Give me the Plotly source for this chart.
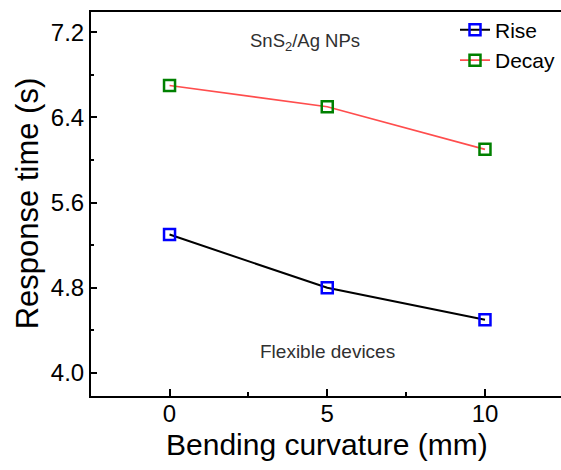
import plotly.graph_objects as go

curvature = [0, 5, 10]
rise = [5.30, 4.80, 4.50]
decay = [6.70, 6.50, 6.10]

FONT = "Liberation Sans, Arial, sans-serif"

fig = go.Figure()
fig.add_trace(go.Scatter(
    x=curvature, y=rise, name="Rise", mode="lines+markers",
    line=dict(color="black", width=2),
    marker=dict(symbol="square-open", size=11, color="#0000ff", line=dict(width=2.5, color="#0000ff")),
))
fig.add_trace(go.Scatter(
    x=curvature, y=decay, name="Decay", mode="lines+markers",
    line=dict(color="#ff4d4d", width=1.6),
    marker=dict(symbol="square-open", size=11, color="#008000", line=dict(width=2.5, color="#008000")),
))

fig.add_annotation(x=4.28, y=7.11, text="SnS<sub>2</sub>/Ag NPs", showarrow=False,
                   font=dict(family=FONT, size=18.5, color="#303030"), xref="x", yref="y")
fig.add_annotation(x=5.02, y=4.2, text="Flexible devices", showarrow=False,
                   font=dict(family=FONT, size=19, color="#303030"), xref="x", yref="y")

# axis titles
fig.add_annotation(x=5, xref="x", y=-0.1276, yref="paper", yanchor="middle",
                   text="Bending curvature (mm)", showarrow=False,
                   font=dict(family=FONT, size=30, color="black"))
fig.add_annotation(x=-0.136, xref="paper", xanchor="center", y=0.502, yref="paper", yanchor="middle",
                   text="Response time (s)", textangle=-90, showarrow=False,
                   font=dict(family=FONT, size=31, color="black"))

fig.update_layout(
    width=561, height=470,
    margin=dict(l=91, r=0, t=12, b=74, autoexpand=False),
    paper_bgcolor="white", plot_bgcolor="white",
    font=dict(family=FONT, color="black"),
    showlegend=True,
    legend=dict(x=1.0, y=1.006, xanchor="right", yanchor="top",
                font=dict(family=FONT, size=21, color="black"),
                bgcolor="rgba(0,0,0,0)", tracegroupgap=0, itemwidth=30),
    xaxis=dict(
        range=[-2.49, 12.41], tickmode="linear", tick0=0, dtick=5,
        ticks="inside", ticklen=7, tickwidth=1.5, tickcolor="black",
        showline=True, linewidth=2, linecolor="black", mirror=True,
        showgrid=False, zeroline=False, ticklabelstandoff=-5,
        tickfont=dict(family=FONT, size=24, color="black"),
        minor=dict(ticks="inside", ticklen=4, dtick=2.5, tick0=0,
                   tickcolor="black", showgrid=False),
    ),
    yaxis=dict(
        range=[3.784, 7.39], tickmode="linear", tick0=0, dtick=0.8, tickformat=".1f",
        ticks="inside", ticklen=6, tickwidth=1.5, tickcolor="black",
        showline=True, linewidth=2, linecolor="black",
        showgrid=False, zeroline=False, ticklabelstandoff=0,
        tickfont=dict(family=FONT, size=24, color="black"),
        minor=dict(ticks="inside", ticklen=3, dtick=0.4, tick0=0, tickcolor="black", showgrid=False),
    ),
)

fig.write_html("out.html")
